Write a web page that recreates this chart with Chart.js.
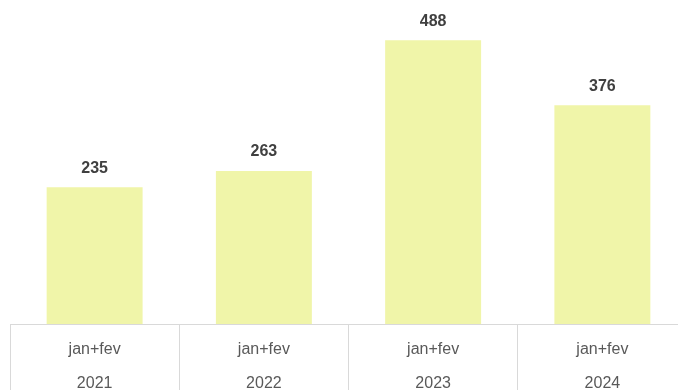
<!DOCTYPE html>
<html>
<head>
<meta charset="utf-8">
<script src="https://cdn.jsdelivr.net/npm/chart.js@4/dist/chart.umd.min.js"></script>
<style>
  html, body { margin: 0; padding: 0; background: #fff; overflow: hidden; }
  #wrap { position: relative; width: 690px; height: 390px; }
</style>
</head>
<body>
<div id="wrap"><canvas id="chart"></canvas></div>
<script>
// Período e anos (eixo de categorias em dois níveis)
const periodos = ['jan+fev', 'jan+fev', 'jan+fev', 'jan+fev'];
const anos = ['2021', '2022', '2023', '2024'];
const valores = [235, 263, 488, 376];

// Rótulos com o valor acima de cada barra
const rotulosValor = {
    id: 'rotulosValor',
    afterDatasetsDraw(chart) {
        const { ctx } = chart;
        const meta = chart.getDatasetMeta(0);
        ctx.save();
        ctx.font = 'bold 16px "Liberation Sans", Arial, sans-serif';
        ctx.fillStyle = '#404040';
        ctx.textAlign = 'center';
        ctx.textBaseline = 'middle';
        meta.data.forEach((bar, i) => {
            ctx.fillText(String(chart.data.datasets[0].data[i]), bar.x, bar.y - 19);
        });
        ctx.restore();
    }
};

new Chart(document.getElementById('chart'), {
    type: 'bar',
    data: {
        labels: periodos.map((p, i) => [p, anos[i]]),
        datasets: [{
            data: valores,
            backgroundColor: '#F0F5A9',
            borderWidth: 0,
            categoryPercentage: 1,
            barPercentage: 0.567
        }]
    },
    options: {
        responsive: true,
        maintainAspectRatio: false,
        animation: false,
        layout: { padding: { left: 10, right: 3, top: 0, bottom: 0 } },
        plugins: {
            legend: { display: false },
            tooltip: { enabled: false }
        },
        scales: {
            x: {
                offset: true,
                grid: {
                    offset: true,
                    drawOnChartArea: false,
                    color: '#D9D9D9',
                    tickLength: 70
                },
                border: { color: '#D9D9D9', width: 1 },
                ticks: {
                    padding: -61,
                    color: '#595959',
                    font: { family: '"Liberation Sans", Arial, sans-serif', size: 16, lineHeight: 34 / 16 },
                    maxRotation: 0
                },
                afterFit(scale) { scale.height = 66; }
            },
            y: {
                display: false,
                min: 0,
                max: 557
            }
        }
    },
    plugins: [rotulosValor]
});
</script>
</body>
</html>
